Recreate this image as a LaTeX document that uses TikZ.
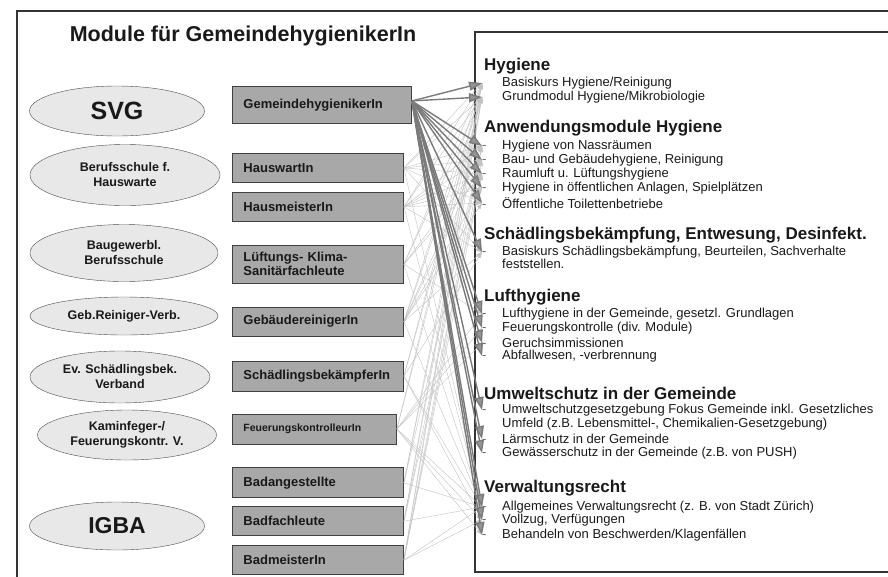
\documentclass[tikz,border=0pt]{standalone}
\usepackage{fontspec}
\setmainfont{Liberation Sans}
\usetikzlibrary{positioning, shapes.geometric, arrows.meta}

\begin{document}
\begin{tikzpicture}[x=1pt,y=-1pt]

	\tikzstyle{org} = [ellipse, draw=black!70, fill=black!9, inner sep=0pt, align=center, text=black!90, font=\bfseries\fontsize{12.5}{15}\selectfont]
	\tikzstyle{job} = [rectangle, draw=black!75, line width=0.9pt, fill=black!34, inner xsep=11pt, inner ysep=0pt, text width=149pt, minimum height=29pt, align=left, anchor=north west, text=black!90, font=\bfseries\fontsize{13}{14}\selectfont]
	\tikzstyle{topic} = [anchor=west, inner sep=0pt, text=black!90, font=\bfseries\fontsize{17}{20}\selectfont]
	\tikzstyle{entry} = [anchor=west, inner sep=0pt, text=black!90, font=\fontsize{13}{15}\selectfont]
	\tikzstyle{mainarrow} = [line width=1.4pt, draw=black!52, ->, >={Triangle[length=13pt,width=9pt,fill=black!42]}]
	\tikzstyle{sidelink} = [line width=0.4pt, draw=black!24, ->, >={Triangle[length=6pt,width=4pt]}]

	\useasboundingbox (0,0) rectangle (888,576);

	% frames
	\draw[black!80, line width=1.2pt] (17,578) -- (17,11) -- (890,11);
	\draw[black!80, line width=1.2pt] (890,32) -- (475,32) -- (475,572) -- (890,572);

	\node[font=\bfseries\fontsize{21.5}{24}\selectfont, text=black!90] (title) at (243,36) {Module für GemeindehygienikerIn};

	% Traegerschaften
	\node[org, minimum width=175pt, minimum height=50pt, font=\bfseries\fontsize{25}{28}\selectfont] (svg) at (117,111) {SVG};
	\node[org, minimum width=190pt, minimum height=61pt] (bsh) at (125,175) {Berufsschule f.\\Hauswarte};
	\node[org, minimum width=188pt, minimum height=57pt] (bgb) at (124,253) {Baugewerbl.\\Berufsschule};
	\node[org, minimum width=188pt, minimum height=38pt] (grv) at (124,316) {Geb.Reiniger-Verb.};
	\node[org, minimum width=180pt, minimum height=52pt] (esv) at (120,377) {Ev. Schädlingsbek.\\Verband};
	\node[org, minimum width=179pt, minimum height=50pt] (kfv) at (127,435) {Kaminfeger-/\\Feuerungskontr. V.};
	\node[org, minimum width=175pt, minimum height=48pt, font=\bfseries\fontsize{23}{26}\selectfont] (igba) at (117,526) {IGBA};

	% Berufe
	\node[job, text width=157pt, minimum height=37pt] (gem) at (232,86) {GemeindehygienikerIn};
	\node[job] (hsw) at (232,153) {HauswartIn};
	\node[job, below=9pt of hsw.south west, anchor=north west] (hsm) {HausmeisterIn};
	\node[job, minimum height=38pt, below=23pt of hsm.south west, anchor=north west] (lks) {Lüftungs- Klima-\\Sanitärfachleute};
	\node[job, below=23pt of lks.south west, anchor=north west] (gbr) {GebäudereinigerIn};
	\node[job, minimum height=30pt, below=24pt of gbr.south west, anchor=north west] (sbk) {SchädlingsbekämpferIn};
	\node[job, text width=142pt, minimum height=30pt, font=\bfseries\fontsize{10.5}{12}\selectfont, below=22pt of sbk.south west, anchor=north west] (fkt) {FeuerungskontrolleurIn};
	\node[job, minimum height=30pt, below=23pt of fkt.south west, anchor=north west] (bda) {Badangestellte};
	\node[job, below=8pt of bda.south west, anchor=north west] (bdf) {Badfachleute};
	\node[job, below=9pt of bdf.south west, anchor=north west] (bdm) {BadmeisterIn};

	% Module
	\node[topic] (hyg) at (484,66) {Hygiene};
	\node[entry] (h1) at (482,83) {\makebox[20pt][l]{}Basiskurs Hygiene/Reinigung};
	\node[entry] (h2) at (482,97) {\makebox[20pt][l]{}Grundmodul Hygiene/Mikrobiologie};
	\node[topic] (anw) at (484,128) {Anwendungsmodule Hygiene};
	\node[topic] (sch) at (484,235) {Schädlingsbekämpfung, Entwesung, Desinfekt.};
	\node[topic] (luf) at (484,297) {Lufthygiene};
	\node[topic] (umw) at (484,393) {Umweltschutz in der Gemeinde};
	\node[topic] (vwr) at (484,488) {Verwaltungsrecht};
	\foreach \nm/\yy/\txt in {a1/146/{Hygiene von Nassräumen}, a2/160/{Bau- und Gebäudehygiene, Reinigung},
		a3/174/{Raumluft u. Lüftungshygiene}, a4/188/{Hygiene in öffentlichen Anlagen, Spielplätzen},
		a5/203/{Öffentliche Toilettenbetriebe}, s1/252/{Basiskurs Schädlingsbekämpfung, Beurteilen, Sachverhalte},
		l1/314/{Lufthygiene in der Gemeinde, gesetzl. Grundlagen}, l2/328/{Feuerungskontrolle (div. Module)},
		l3/343/{Geruchsimmissionen}, l4/356/{Abfallwesen, -verbrennung},
		u1/410/{Umweltschutzgesetzgebung Fokus Gemeinde inkl. Gesetzliches}, u2/439/{Lärmschutz in der Gemeinde},
		u3/453/{Gewässerschutz in der Gemeinde (z.B. von PUSH)},
		v1/507/{Allgemeines Verwaltungsrecht (z. B. von Stadt Zürich)}, v2/520/{Vollzug, Verfügungen},
		v3/535/{Behandeln von Beschwerden/Klagenfällen}}
		\node[entry] (\nm) at (482,\yy) {\makebox[20pt][l]{\textcolor{black!60}{-}}\txt};
	\node[entry, anchor=west] (s1b) at (502,264) {feststellen.};
	\node[entry, anchor=west] (u1b) at (502,424) {Umfeld (z.B. Lebensmittel-, Chemikalien-Gesetzgebung)};

	% Zuordnungen der anderen Berufe
	\foreach \src/\dsts in {hsw/{h1,h2,a1,a2,a3,a5,s1,v1}, hsm/{h1,h2,a1,a2,a3,a4,a5,s1,v1},
		lks/{h1,h2,a2,a3,l1,v1}, gbr/{h1,h2,a1,a2,a4,a5,s1,v1}, sbk/{h1,h2,s1,v1,v2},
		fkt/{h1,h2,l1,l2,l3,v1,v2,v3}, bda/{h1,h2,a1,v1}, bdf/{h1,h2,a1,a3,v1}, bdm/{h1,h2,a1,a2,a3,v1,v2}}
		\foreach \dst in \dsts
			\draw[sidelink] (\src.east) -- (\dst.west);

	% GemeindehygienikerIn besucht alle Module
	\foreach \dst in {h1,h2,a1,a2,a3,a4,a5,s1,l1,l2,l3,l4,u1,u2,u3,v1,v2,v3}
		\draw[mainarrow] ([yshift=4pt]gem.east) -- (\dst.west);

\end{tikzpicture}
\end{document}
